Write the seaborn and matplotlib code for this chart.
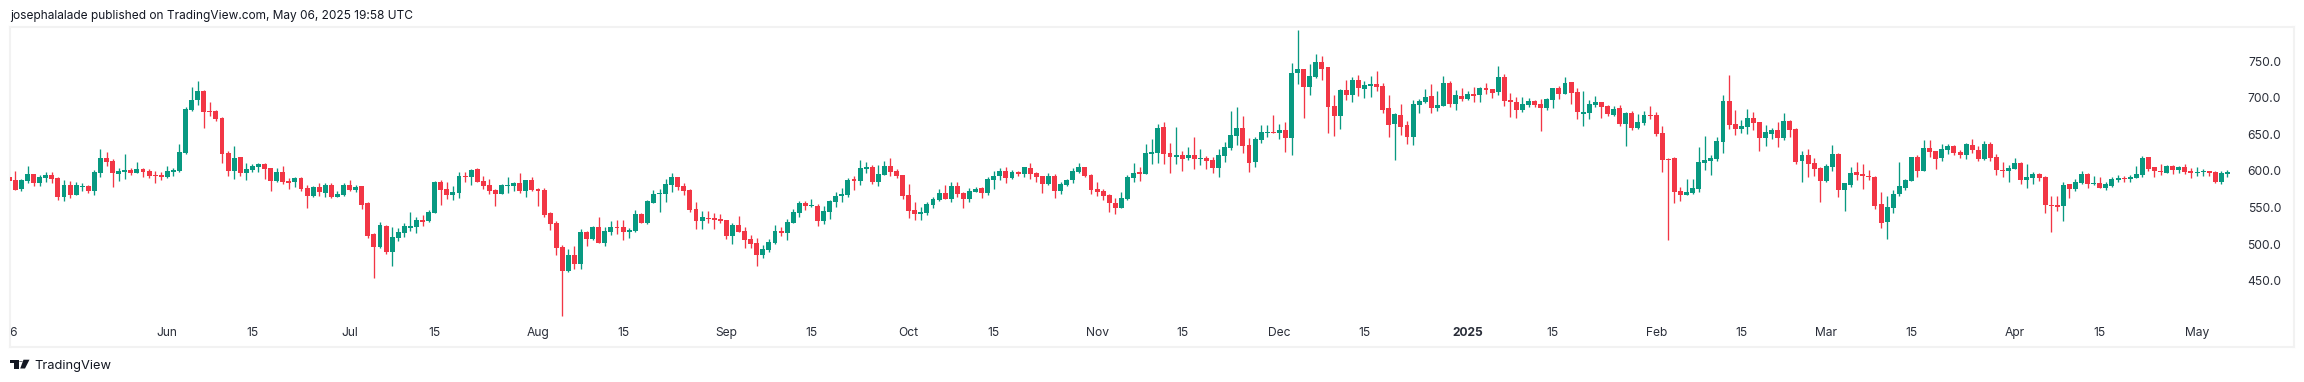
import numpy as np
import pandas as pd
import seaborn as sns
import matplotlib
matplotlib.use("Agg")
import matplotlib.pyplot as plt
from matplotlib.patches import Polygon, Circle

opens = [
592,588,575,586,596,584,590,595,590,565,
581,567,578,580,573,597,618,614,596,599,
601,597,603,600,595,595,592,599,600,625,
683,697,709,682,682,673,625,600,619,597,
601,606,610,604,586,599,586,585,590,577,
566,578,570,581,565,567,581,574,580,556,
514,496,525,489,508,515,522,523,533,532,
543,585,575,567,570,593,592,603,586,581,
574,569,580,580,584,573,588,575,574,543,
529,496,463,485,473,517,507,523,502,517,
523,523,517,518,541,529,556,569,569,581,
592,580,574,548,532,536,536,534,533,511,
526,518,507,502,485,492,502,518,515,529,
543,556,552,552,532,544,558,566,567,589,
586,603,606,585,595,607,600,595,567,547,
541,543,554,560,570,562,580,570,562,571,
577,570,588,593,600,590,599,596,604,597,
593,582,593,573,581,588,599,606,595,575,
573,567,556,549,562,590,599,596,623,625,
660,625,619,622,618,622,616,618,615,604,
621,631,648,659,636,612,642,652,653,652,
656,645,734,740,715,729,749,742,689,675,
711,704,724,712,716,719,716,686,664,677,
663,647,690,694,703,686,689,720,692,703,
699,705,704,714,712,708,729,697,694,683,
690,696,692,686,697,714,705,722,708,678,
679,690,694,689,677,686,664,679,659,666,
677,677,652,616,618,573,567,570,575,611,
614,616,640,696,664,657,660,673,667,645,
651,656,645,668,657,614,622,611,604,586,
606,623,574,581,599,596,593,592,555,530,
549,569,577,586,619,600,631,627,618,629,
634,626,622,636,629,616,637,619,601,600,
603,611,588,590,596,592,554,554,552,582,
575,584,596,582,584,577,580,588,590,589,
590,595,619,606,600,597,607,601,606,600,
597,599,600,599,585,596]

highs = [
592,600,589,607,596,595,599,599,592,588,
586,585,584,581,601,630,626,616,604,623,
604,612,604,603,600,599,607,604,637,688,
715,723,711,694,683,674,627,634,619,611,
610,611,611,604,604,607,590,592,592,581,
580,584,584,584,573,584,588,581,580,558,
515,530,526,523,522,529,544,537,540,547,
586,588,585,580,599,599,603,604,593,589,
575,582,592,585,597,588,592,577,577,544,
532,499,493,497,521,518,525,537,523,532,
533,533,522,547,543,560,574,575,589,597,
592,584,575,558,545,545,543,541,533,529,
539,523,513,508,499,507,526,523,534,548,
559,559,562,555,552,560,571,577,590,593,
615,612,608,608,614,618,603,595,582,558,
551,558,565,575,581,585,585,571,577,578,
578,592,600,604,606,601,600,606,611,599,
593,597,596,585,589,604,611,606,596,585,
575,569,563,571,595,611,606,637,644,664,
667,638,660,627,633,647,630,621,619,630,
640,682,688,675,645,647,663,663,677,664,
667,748,793,740,746,760,757,742,704,712,
724,729,731,723,730,737,720,704,679,692,
668,697,699,712,719,709,730,723,711,714,
709,715,715,720,712,744,733,707,701,701,
700,697,699,700,714,716,729,722,714,709,
697,703,694,690,689,690,681,682,678,682,
689,681,662,618,619,578,589,589,633,648,
622,647,704,731,683,670,685,681,667,663,
659,667,679,670,659,627,630,618,606,610,
636,625,584,606,612,610,601,593,571,566,
574,612,589,619,622,642,642,627,637,637,
636,629,638,644,634,641,640,623,612,608,
618,612,610,599,597,593,566,566,585,582,
589,600,597,593,592,585,592,595,593,595,
607,621,619,606,610,608,608,607,610,604,
606,603,600,600,600,601]

lows = [
586,574,573,584,580,580,585,584,560,559,
563,567,573,570,567,592,607,578,586,589,
595,597,592,590,584,588,590,593,599,623,
682,690,659,675,668,611,593,589,593,588,
599,599,589,573,585,582,575,578,573,549,
565,566,565,563,565,566,573,571,548,508,
454,495,487,470,504,510,518,515,525,530,
543,554,562,560,563,585,581,585,575,569,
552,569,570,573,570,565,573,552,537,519,
485,402,462,466,466,497,506,502,497,513,
514,506,508,517,529,528,556,544,558,571,
574,567,544,521,521,529,521,529,507,500,
517,495,495,470,481,489,500,511,506,529,
537,547,551,525,528,534,551,558,565,574,
581,597,582,580,595,593,590,562,536,533,
533,540,549,559,562,558,565,549,558,571,
563,567,575,588,584,589,593,592,589,585,
570,581,563,569,580,584,597,592,569,566,
560,544,541,549,560,585,586,596,610,611,
610,597,610,600,615,603,608,603,597,592,
612,629,636,625,599,606,638,647,652,644,
626,622,719,673,704,727,724,652,648,657,
697,694,703,700,701,709,679,647,615,649,
637,636,679,693,679,682,689,688,683,696,
697,694,694,705,700,704,689,674,673,681,
688,688,655,683,686,699,705,692,671,662,
671,688,673,675,675,662,634,656,657,663,
671,648,599,506,556,559,567,569,571,601,
595,614,625,657,649,652,651,656,627,634,
644,633,642,647,610,585,592,593,558,585,
600,565,545,578,588,575,588,548,522,507,
543,566,574,586,592,600,619,603,614,623,
622,618,616,625,614,615,614,595,592,585,
603,582,577,582,586,543,517,545,532,563,
573,582,577,581,577,574,578,585,585,585,
590,592,600,592,595,597,596,597,596,590,
593,593,593,584,582,592]

closes = [
586,574,588,596,584,592,595,589,565,581,
567,581,580,573,599,618,612,597,600,601,
597,603,599,593,593,592,600,601,626,685,
697,709,681,681,671,623,600,618,597,603,
607,610,603,586,599,585,584,590,575,566,
578,571,581,565,569,581,574,578,554,511,
496,526,489,510,517,525,525,533,530,544,
585,574,567,571,593,592,601,585,580,573,
569,581,581,584,573,588,574,573,540,528,
495,463,485,473,517,507,523,502,518,523,
522,517,519,541,529,559,569,570,582,592,
578,573,547,532,537,534,533,532,511,526,
517,506,500,485,493,503,518,515,530,544,
556,552,554,532,545,559,566,569,588,586,
604,606,585,596,607,599,593,566,545,541,
544,555,562,570,562,580,569,562,573,575,
570,589,593,600,590,599,596,606,596,592,
582,593,573,582,588,600,606,593,574,571,
566,556,549,563,592,597,596,625,626,659,
623,619,622,616,622,616,618,614,604,622,
633,649,659,634,611,644,653,653,652,656,
645,734,740,715,730,749,740,688,675,711,
704,724,714,718,719,715,683,663,678,660,
647,692,696,701,686,690,720,692,704,699,
705,703,714,711,707,729,696,694,683,692,
696,690,686,699,714,705,720,707,681,681,
692,694,688,678,685,664,679,659,667,677,
675,651,615,615,571,567,571,577,612,615,
618,641,696,663,657,662,673,666,645,653,
656,645,668,656,612,622,610,603,586,607,
623,574,584,597,595,593,592,552,529,551,
569,580,588,619,600,631,626,616,630,634,
625,622,637,629,616,637,618,601,600,604,
611,588,592,596,590,554,552,551,581,575,
585,596,582,584,577,582,589,590,589,592,
596,618,603,600,599,607,601,606,599,597,
599,600,597,585,597,599]

price_ticks = [450, 500, 550, 600, 650, 700, 750]
time_labels = ["6","Jun","15","Jul","15","Aug","15","Sep","15","Oct","15","Nov","15",
               "Dec","15","2025","15","Feb","15","Mar","15","Apr","15","May"]
time_dates = ["2024-05-06","2024-06-01","2024-06-15","2024-07-01","2024-07-15","2024-08-01",
              "2024-08-15","2024-09-01","2024-09-15","2024-10-01","2024-10-15","2024-11-01",
              "2024-11-15","2024-12-01","2024-12-15","2025-01-01","2025-01-15","2025-02-01",
              "2025-02-15","2025-03-01","2025-03-15","2025-04-01","2025-04-15","2025-05-01"]
title_text = "josephalalade published on TradingView.com, May 06, 2025 19:58 UTC"
brand_text = "TradingView"

UP, DOWN = "#089981", "#F23645"
W, H = 2304, 382

sns.set_theme(style="white")
plt.rcParams["font.family"] = ["Inter", "DejaVu Sans"]

df = pd.DataFrame({"open": opens, "high": highs, "low": lows, "close": closes})
df["date"] = pd.date_range("2024-05-06", periods=len(df), freq="D")
df["day"] = (df["date"] - df["date"].iloc[0]).dt.days
df["up"] = df["close"] >= df["open"]
df["bottom"] = df[["open", "close"]].min(axis=1)
df["height"] = (df["close"] - df["open"]).abs()

fig = plt.figure(figsize=(W / 100, H / 100), dpi=100, facecolor="white")
ax = fig.add_axes([10 / W, 1 - 347 / H, (2294 - 10) / W, (347 - 27) / H])

for is_up, colour in ((True, UP), (False, DOWN)):
    part = df[df["up"] == is_up]
    sns.barplot(x=part["day"].to_numpy(), y=part["height"].to_numpy(),
                bottom=part["bottom"].to_numpy(), native_scale=True, color=colour,
                saturation=1, width=0.82, errorbar=None, linewidth=0, ax=ax, zorder=3)
    ax.vlines(part["day"], part["low"], part["high"], color=colour, linewidth=0.95, zorder=2)

ax.set_xlim(0.115, 375.96)
ax.set_ylim(359.3, 796.9)
ax.set_xlabel("")
ax.set_ylabel("")
for s in ax.spines.values():
    s.set_color("#F2F2F2")
    s.set_linewidth(1.5)

first = pd.Timestamp("2024-05-06")
tick_days = [(pd.Timestamp(d) - first).days for d in time_dates]
tick_days[0] = 0.65
ax.set_xticks(tick_days)
ax.set_xticklabels(time_labels)
ax.tick_params(axis="x", length=0, pad=-14.1, labelsize=8.7, labelcolor="#2A2E39")
for lab in ax.get_xticklabels():
    lab.set_va("top")
    if lab.get_text() == "2025":
        lab.set_fontweight("bold")

ax.yaxis.tick_right()
ax.set_yticks(price_ticks)
ax.set_yticklabels([f"{p:.1f}" for p in price_ticks])
ax.tick_params(axis="y", length=0, pad=-9.4, labelsize=8.7, labelcolor="#2A2E39")
for lab in ax.get_yticklabels():
    lab.set_ha("right")

fig.text(10 / W, 1 - 16 / H, title_text, fontsize=8.57, color="#131722", va="center", ha="left")
fig.text(34 / W, 1 - 366 / H, brand_text, fontsize=9.25, color="#131722", va="center", ha="left")

def px(points):
    return [(x / W, 1 - y / H) for x, y in points]

logo = "#131722"
fig.add_artist(Polygon(px([(10, 359.7), (18.5, 359.7), (18.5, 368.5), (13.6, 368.5), (13.6, 363.4), (10, 363.4)]),
                       closed=True, transform=fig.transFigure, fc=logo, ec="none"))
fig.add_artist(Polygon(px([(23.5, 359.7), (29.5, 359.7), (25, 368.5), (20.2, 368.5)]),
                       closed=True, transform=fig.transFigure, fc=logo, ec="none"))
fig.add_artist(Circle((20.9 / W, 1 - 361.7 / H), 1.9 / W, transform=fig.transFigure, fc=logo, ec="none"))

fig.savefig("out.png", dpi=100, facecolor="white")
